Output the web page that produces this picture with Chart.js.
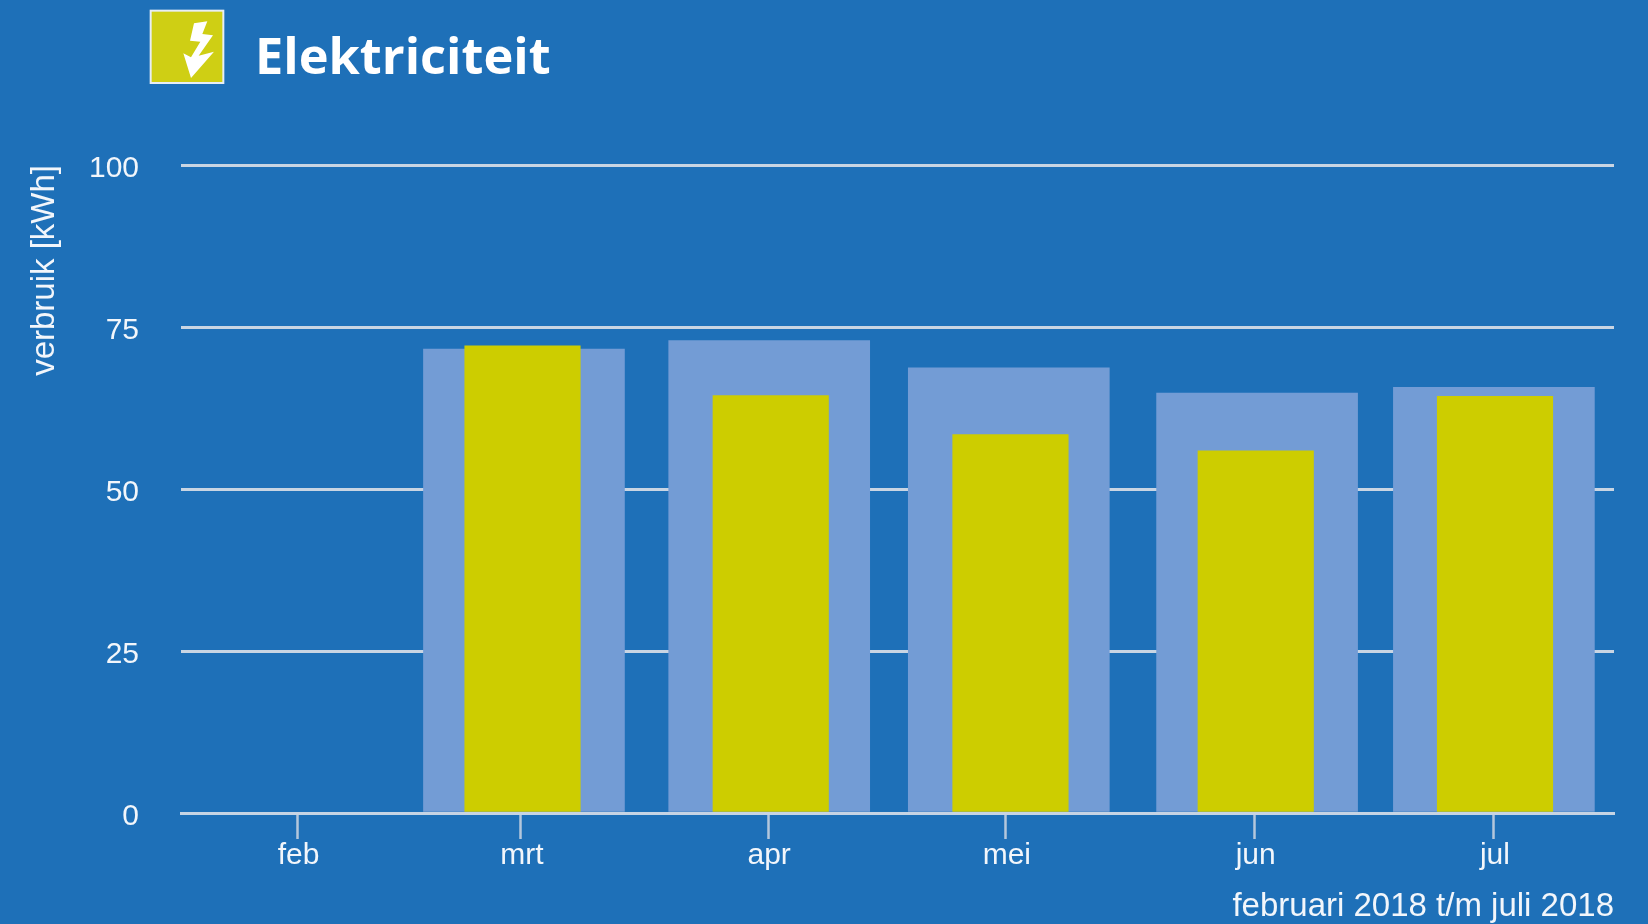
<!DOCTYPE html>
<html lang="nl">
<head>
<meta charset="utf-8">
<title>Elektriciteit</title>
<script src="https://cdn.jsdelivr.net/npm/chart.js@4"></script>
<style>
html,body{margin:0;padding:0;background:#1e70b8;overflow:hidden;}
#wrap{position:relative;width:1648px;height:924px;}
canvas{position:absolute;left:0;top:0;}
#icon{position:absolute;left:145px;top:5px;width:90px;height:85px;}
h1{position:absolute;left:255px;top:20px;margin:0;font:700 50.5px/70px "Open Sans",sans-serif;color:#fff;}
</style>
</head>
<body>
<div id="wrap">
<canvas id="c" width="1648" height="924"></canvas>
<svg id="icon" viewBox="0 0 270 255" aria-hidden="true">
<rect x="17" y="17" width="218" height="217" fill="#cfcf14" stroke="#e8eef5" stroke-width="6"/>
<polygon points="147,55 187,49 172,87 204,91 161,152 207,140 138,219 115,145 138,157 166,110 135,107" fill="#fff"/>
</svg>
<h1>Elektriciteit</h1>
</div>
<script>
const months = ['feb','mrt','apr','mei','jun','jul'];
const monthDays = [0,28,59,88.8,120,150];
const yTicks = [0,25,50,75,100];
const normDays = [28.38,59.13,89.17,120.3,149.99];
const normValues = [71.6,72.9,68.7,64.8,65.7];
const useDays = [28.2,59.32,89.38,120.13,150.13];
const useValues = [72.1,64.4,58.4,55.9,64.3];
const toPoints = (xs,ys)=>xs.map((x,i)=>({x,y:ys[i]}));
const FONT = '"Liberation Sans", Arial, sans-serif';
const TXT = '#f2f6fb';

new Chart(document.getElementById('c'),{
  type:'bar',
  data:{datasets:[
    {label:'verbruik',data:toPoints(useDays,useValues),backgroundColor:'#cdcd00',barThickness:115.5,grouped:false,order:1},
    {label:'vergelijking',data:toPoints(normDays,normValues),backgroundColor:'#739cd5',barThickness:201,grouped:false,order:2}
  ]},
  options:{
    responsive:false,animation:false,
    layout:{padding:{top:165,right:34,left:0,bottom:0}},
    plugins:{legend:{display:false},tooltip:{enabled:false},title:{display:false}},
    scales:{
      x:{
        type:'linear',offset:false,min:-14.62,max:165.05,
        afterBuildTicks:s=>{s.ticks=monthDays.map(v=>({value:v}));},
        afterFit:s=>{s.height=111;},
        grid:{offset:false,drawOnChartArea:false,drawTicks:true,tickLength:26,tickWidth:2.5,tickColor:'#b4c7dc'},
        border:{display:true,color:'#c6d4e4',width:3,z:1},
        ticks:{autoSkip:false,maxRotation:0,minRotation:0,padding:-1,labelOffset:1,color:TXT,font:{family:FONT,size:30},
          callback:(v,i)=>months[i]},
        title:{display:true,text:'februari 2018 t/m juli 2018',align:'end',color:TXT,font:{family:FONT,size:33,lineHeight:1.05},padding:{top:0,bottom:0}}
      },
      y:{
        type:'linear',min:0,max:100,
        afterBuildTicks:s=>{s.ticks=yTicks.map(v=>({value:v}));},
        afterFit:s=>{s.width=181;},
        grid:{color:'#c9d5e3',lineWidth:3,drawTicks:false},
        border:{display:false},
        ticks:{padding:42,labelOffset:4,color:TXT,font:{family:FONT,size:30}},
        title:{display:true,text:'verbruik [kWh]',align:'end',color:TXT,font:{family:FONT,size:33},padding:{top:24.7,bottom:0}}
      }
    }
  }
});
</script>
</body>
</html>
